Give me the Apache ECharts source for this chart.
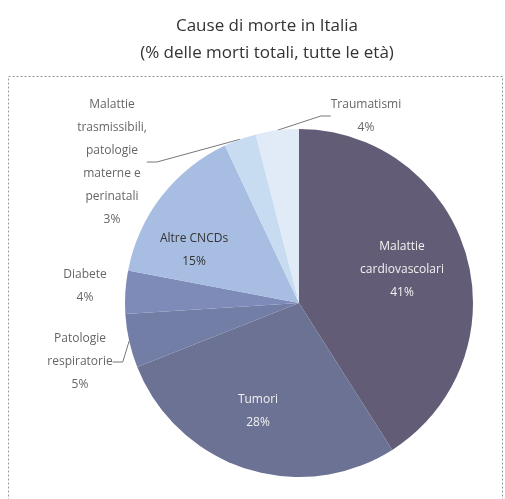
<!DOCTYPE html>
<html>
<head>
<meta charset="utf-8">
<script src="https://cdn.jsdelivr.net/npm/echarts@6/dist/echarts.min.js"></script>
<style>
html,body{margin:0;padding:0;background:#fff;}
#chart{width:505px;height:499px;}
</style>
</head>
<body>
<div id="chart"></div>
<script>
const titleLines = ['Cause di morte in Italia', '(% delle morti totali, tutte le età)'];
const categories = [
  'Malattie\ncardiovascolari',
  'Tumori',
  'Patologie\nrespiratorie',
  'Diabete',
  'Altre CNCDs',
  'Malattie\ntrasmissibili,\npatologie\nmaterne e\nperinatali',
  'Traumatismi'
];
const values = [41, 28, 5, 4, 15, 3, 4];
const colors = ['#625c76', '#6b7293', '#737ea6', '#7e8bb8', '#a8bde2', '#c8dcf1', '#e0ebf7'];
const labelColors = ['#f2f2f2', '#f2f2f2', '#666666', '#666666', '#333333', '#666666', '#666666'];
const insideLabel = [true, true, false, false, true, false, false];
// label anchor positions (layout only)
const labelPos = [
  [402, 270], [258, 411], [80, 362], [85, 286], [194, 250], [112, 162], [366, 116]
];

const chart = echarts.init(document.getElementById('chart'), null, {renderer: 'canvas'});
const data = categories.map((c, i) => ({
  name: c,
  value: values[i],
  itemStyle: {color: colors[i]},
  label: {color: labelColors[i], position: insideLabel[i] ? 'inside' : 'outside'},
  labelLine: {show: !insideLabel[i] && i !== 3}
}));

chart.setOption({
  animation: false,
  title: {
    text: titleLines.join('\n'),
    left: 262,
    top: 8,
    textAlign: 'center',
    textStyle: {fontFamily: 'Open Sans', fontSize: 17, fontWeight: 'normal', color: '#333', lineHeight: 27}
  },
  graphic: [{
    type: 'rect',
    shape: {x: 8.5, y: 76.5, width: 494, height: 440},
    style: {fill: 'none', stroke: '#999', lineWidth: 1, lineDash: [2, 2]},
    silent: true
  }],
  series: [{
    type: 'pie',
    center: [299, 303],
    radius: [0, 174],
    startAngle: 90,
    clockwise: true,
    avoidLabelOverlap: false,
    data: data,
    itemStyle: {borderWidth: 0},
    label: {
      show: true,
      formatter: p => p.name + '\n' + p.value + '%',
      fontFamily: 'Open Sans',
      fontSize: 12,
      lineHeight: 23,
      align: 'center',
      overflow: 'none'
    },
    labelLine: {show: true, length: 10, length2: 10, lineStyle: {color: '#777', width: 1}},
    labelLayout: function (params) {
      const p = labelPos[params.dataIndex];
      return {x: p[0], y: p[1], align: 'center', verticalAlign: 'middle', hideOverlap: false};
    }
  }]
});
</script>
</body>
</html>
